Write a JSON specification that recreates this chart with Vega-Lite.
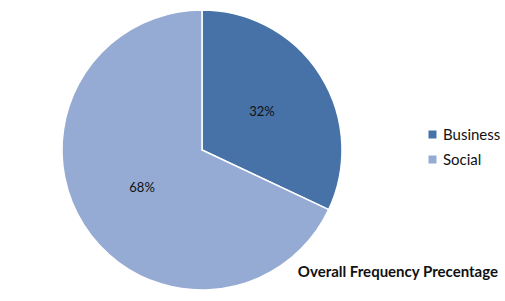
{
  "$schema": "https://vega.github.io/schema/vega-lite/v6.json",
  "width": 404,
  "height": 300,
  "padding": {"left": 0, "top": 0, "right": 101, "bottom": 1},
  "autosize": "none",
  "background": "white",
  "title": {
    "text": "Overall Frequency Precentage",
    "orient": "bottom",
    "anchor": "end",
    "frame": "group",
    "offset": -35,
    "dx": 94,
    "font": "Lato",
    "fontSize": 15,
    "fontWeight": "bold",
    "color": "#111111"
  },
  "data": {
    "values": [
      {"category": "Business", "share": 0.32},
      {"category": "Social", "share": 0.68}
    ]
  },
  "encoding": {
    "theta": {"field": "share", "type": "quantitative", "stack": true},
    "color": {
      "field": "category",
      "type": "nominal",
      "scale": {"domain": ["Business", "Social"], "range": ["#4672A8", "#95ABD3"]},
      "legend": {
        "title": null,
        "orient": "none",
        "legendX": 425,
        "legendY": 127,
        "symbolType": "square",
        "symbolSize": 64,
        "symbolStrokeWidth": 0,
        "labelFont": "Lato",
        "labelFontSize": 15,
        "labelColor": "#111111",
        "rowPadding": 9,
        "labelOffset": 3
      }
    }
  },
  "layer": [
    {
      "mark": {"type": "arc", "outerRadius": 140, "stroke": "white", "strokeWidth": 1.5}
    },
    {
      "mark": {"type": "text", "radius": 71, "font": "Lato", "fontSize": 13, "color": "#111111"},
      "encoding": {
        "text": {"field": "share", "type": "quantitative", "format": ".0%"},
        "color": {"value": "#111111"}
      }
    }
  ]
}
